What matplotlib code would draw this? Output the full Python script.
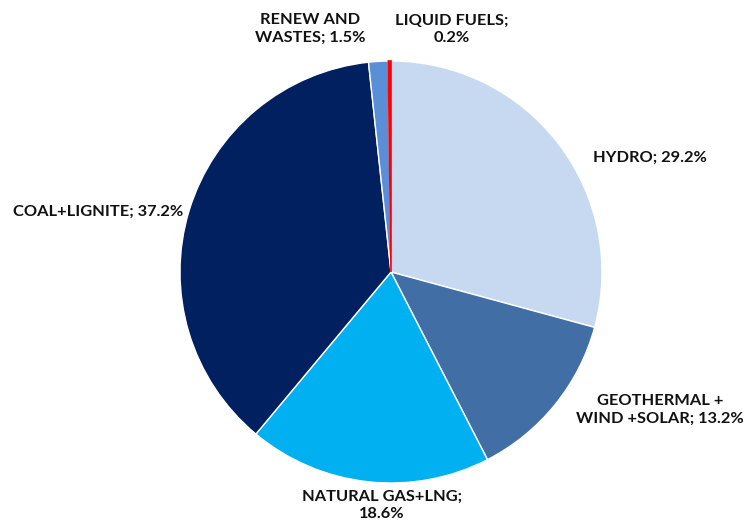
import matplotlib
matplotlib.use("Agg")
import matplotlib.pyplot as plt

categories = ["HYDRO", "GEOTHERMAL +\nWIND +SOLAR", "NATURAL GAS+LNG", "COAL+LIGNITE",
              "RENEW AND\nWASTES", "LIQUID FUELS"]
values = [29.2, 13.2, 18.6, 37.2, 1.5, 0.2]
colors = ["#C6D9F1", "#416EA4", "#00B0F0", "#002060", "#5A8ED6", "#FF0000"]
label_texts = ["HYDRO; 29.2%", "GEOTHERMAL +\nWIND +SOLAR; 13.2%", "NATURAL GAS+LNG;\n18.6%",
               "COAL+LIGNITE; 37.2%", "RENEW AND\nWASTES; 1.5%", "LIQUID FUELS;\n0.2%"]
label_pos = [(650, 158), (660, 410), (382, 505), (98, 212), (310, 29), (452, 29)]

W, H = 747, 528
fig = plt.figure(figsize=(W / 100, H / 100), dpi=100)
ax = fig.add_axes([0, 0, 1, 1])

wedges, _ = ax.pie(values, colors=colors, startangle=90, counterclock=False,
                   center=(391, H - 272), radius=211, frame=False,
                   wedgeprops=dict(edgecolor="white", linewidth=1))
wedges[-1].set_edgecolor("#FF0000")
wedges[-1].set_linewidth(1.2)
wedges[-1].set_zorder(5)
ax.set_xlim(0, W)
ax.set_ylim(0, H)
ax.set_aspect("equal")
ax.axis("off")

for (x, y), t in zip(label_pos, label_texts):
    ax.text(x, H - y, t, ha="center", va="center", fontsize=11.8, fontweight="bold",
            family=["Lato", "DejaVu Sans"], color="#111111", linespacing=1.3)

fig.savefig("out.png", dpi=100)
